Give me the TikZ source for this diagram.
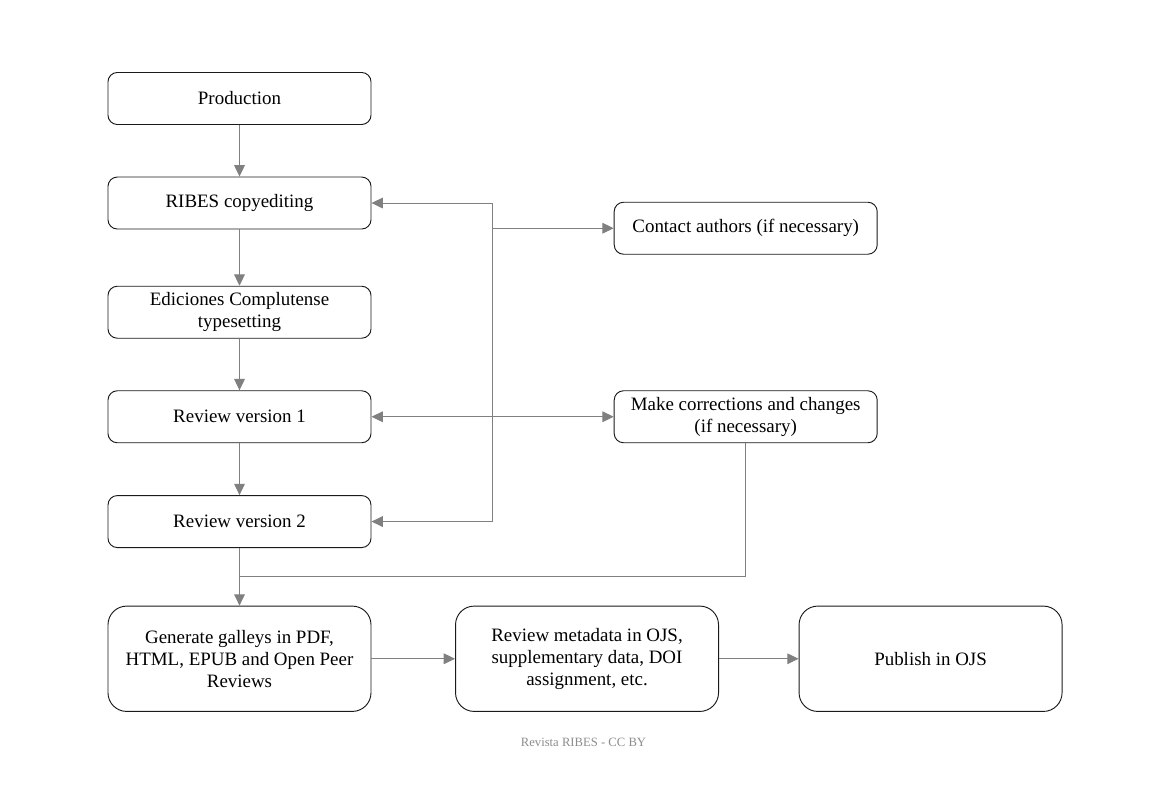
\documentclass[tikz,border=0pt]{standalone}
\usepackage{fontspec}
\setmainfont{Liberation Serif}
\usepackage{tikz}
\usetikzlibrary{arrows.meta,positioning,calc}
\definecolor{borde}{HTML}{1A1A1A}
\definecolor{linea}{HTML}{808080}
\definecolor{pie}{HTML}{8C8C8C}
\tikzset{
  stage/.style={draw=borde,line width=0.7pt,rounded corners=7pt,fill=white,
    align=center,minimum width=197.25pt,minimum height=39pt,
    font=\fontsize{14.2}{16.5}\selectfont,inner sep=2pt},
  bigstage/.style={stage,rounded corners=14pt,minimum height=79pt},
  arrow/.style={-{Triangle[length=8.5pt,width=8pt]},line width=0.75pt,draw=linea},
  dualarrow/.style={{Triangle[length=8.5pt,width=8pt]}-{Triangle[length=8.5pt,width=8pt]},line width=0.75pt,draw=linea},
  link/.style={line width=0.75pt,draw=linea},
  credit/.style={font=\fontsize{9.5}{11}\selectfont,text=pie}
}
\begin{document}
\begin{tikzpicture}[x=0.75pt,y=-0.75pt]
\useasboundingbox (0,0) rectangle (1168,798);
\node[stage] (prod) at (239.5,98.5) {Production};
\node[stage,below=38.7pt of prod] (ribes) {RIBES copyediting};
\node[stage,below=42.2pt of ribes] (typeset) {Ediciones Complutense\\typesetting};
\node[stage,below=38.7pt of typeset] (rev1) {Review version 1};
\node[stage,below=38.9pt of rev1] (rev2) {Review version 2};
\node[bigstage,below=43.2pt of rev2] (galleys) {Generate galleys in PDF,\\HTML, EPUB and Open Peer\\Reviews};
\node[bigstage,right=62.7pt of galleys] (meta) {Review metadata in OJS,\\supplementary data, DOI\\assignment, etc.};
\node[bigstage,right=59.7pt of meta] (pub) {Publish in OJS};
\node[stage,right=181.7pt of rev1] (fix) {Make corrections and changes\\(if necessary)};
\node[stage,above=101.7pt of fix] (contact) {Contact authors (if necessary)};
\node[credit] (foot) at (583.5,742) {Revista RIBES - CC BY};
\coordinate (trunk) at ($(ribes.east)+(90.75pt,0)$);
\coordinate (join) at ($(rev2.south)!0.5!(galleys.north)$);
\draw[arrow] (prod)--(ribes);
\draw[arrow] (ribes)--(typeset);
\draw[arrow] (typeset)--(rev1);
\draw[arrow] (rev1)--(rev2);
\draw[arrow] (rev2)--(galleys);
\draw[arrow] (trunk)--(ribes.east);
\draw[arrow] (trunk)|-(rev2.east);
\draw[arrow] (trunk|-contact.west)--(contact.west);
\draw[dualarrow] (rev1)--(fix);
\draw[link] (fix.south)|-(join);
\draw[arrow] (galleys)--(meta);
\draw[arrow] (meta)--(pub);
\end{tikzpicture}
\end{document}
